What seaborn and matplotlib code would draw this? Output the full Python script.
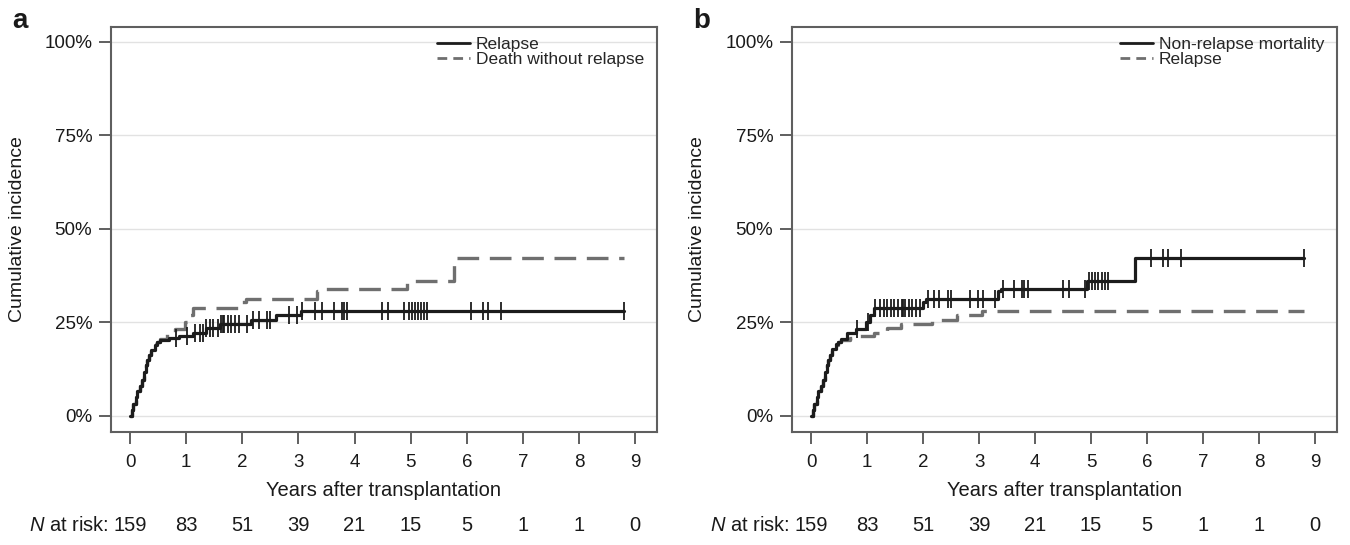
import numpy as np
import pandas as pd
import matplotlib
matplotlib.use("Agg")
import matplotlib.pyplot as plt
from matplotlib.lines import Line2D
import seaborn as sns

# ---------------- data ----------------
years_ticks = [0, 1, 2, 3, 4, 5, 6, 7, 8, 9]
n_at_risk = [159, 83, 51, 39, 21, 15, 5, 1, 1, 0]
y_ticks = [0, 25, 50, 75, 100]
y_ticklabels = ["0%", "25%", "50%", "75%", "100%"]

# cumulative incidence of relapse (%)
relapse_t = [0, 0.03, 0.06, 0.10, 0.13, 0.17, 0.22, 0.25, 0.28, 0.31, 0.34,
             0.38, 0.44, 0.48, 0.53, 0.70, 0.88, 1.12, 1.35, 1.60, 2.16,
             2.60, 3.05, 8.80]
relapse_ci = [0, 1.5, 3.2, 5.2, 6.6, 8.0, 9.6, 11.8, 13.6, 15.0, 16.3,
              17.6, 19.0, 19.7, 20.3, 20.9, 21.4, 22.3, 23.5, 24.7, 25.6,
              26.9, 28.0, 28.0]

# cumulative incidence of death without relapse / non-relapse mortality (%)
nrm_t = [0, 0.03, 0.06, 0.10, 0.13, 0.17, 0.22, 0.25, 0.28, 0.31, 0.34,
         0.38, 0.44, 0.48, 0.53, 0.65, 0.80, 0.98, 1.05, 1.12, 1.99, 2.06,
         3.33, 3.40, 4.93, 5.78, 8.80]
nrm_ci = [0, 1.5, 3.2, 5.2, 6.6, 8.0, 9.6, 11.8, 13.6, 15.0, 16.3,
          17.8, 19.3, 19.9, 20.5, 22.3, 23.2, 25.2, 27.0, 28.9, 30.5, 31.3,
          33.3, 34.0, 36.1, 42.2, 42.2]

# censoring times (years)
censor_t = [0.82, 1.02, 1.15, 1.24, 1.30, 1.36, 1.42, 1.48, 1.56, 1.62, 1.65,
            1.68, 1.74, 1.80, 1.87, 1.94, 2.08, 2.19, 2.29, 2.44, 2.50, 2.83,
            2.98, 3.07, 3.29, 3.42, 3.63, 3.77, 3.81, 3.87, 4.49, 4.60, 4.89,
            4.97, 5.02, 5.07, 5.13, 5.19, 5.24, 5.30, 6.07, 6.29, 6.38, 6.61,
            8.80]

panels = [
    dict(letter="a", solid=("Relapse", relapse_t, relapse_ci),
         dashed=("Death without relapse", nrm_t, nrm_ci)),
    dict(letter="b", solid=("Non-relapse mortality", nrm_t, nrm_ci),
         dashed=("Relapse", relapse_t, relapse_ci)),
]

# ---------------- style ----------------
sns.set_theme(style="white")
plt.rcParams["font.family"] = ["Liberation Sans", "DejaVu Sans"]
plt.rcParams["mathtext.fontset"] = "custom"
plt.rcParams["mathtext.it"] = "Liberation Sans:italic"
plt.rcParams["mathtext.rm"] = "Liberation Sans"

SOLID = "#1c1c1c"
DASH = "#6f6f6f"
SPINE = "#5f5f5f"
TEXT = "#1a1a1a"

W, H = 1350, 545
fig = plt.figure(figsize=(W / 100, H / 100), dpi=100)
fig.patch.set_facecolor("white")

ax_boxes = [(111, 27, 657, 432), (792, 27, 1337, 432)]


def step_value(t_arr, v_arr, t):
    t_arr = np.asarray(t_arr)
    idx = np.searchsorted(t_arr, t, side="right") - 1
    return np.asarray(v_arr)[np.clip(idx, 0, len(v_arr) - 1)]


for p, (l, tp, r, b) in zip(panels, ax_boxes):
    ax = fig.add_axes([l / W, 1 - b / H, (r - l) / W, (b - tp) / H])
    ax.set_facecolor("white")

    # grid lines
    for yv in y_ticks:
        ax.axhline(yv, color="#e2e2e2", lw=1.0, zorder=0)

    s_lab, s_t, s_v = p["solid"]
    d_lab, d_t, d_v = p["dashed"]
    df_s = pd.DataFrame({"t": s_t, "ci": s_v})
    df_d = pd.DataFrame({"t": d_t, "ci": d_v})

    sns.lineplot(data=df_d, x="t", y="ci", ax=ax, color=DASH, lw=2.4,
                 drawstyle="steps-post", linestyle=(0, (6.5, 3.2)),
                 estimator=None, zorder=2)
    sns.lineplot(data=df_s, x="t", y="ci", ax=ax, color=SOLID, lw=2.3,
                 drawstyle="steps-post", estimator=None, zorder=3)

    cens_y = step_value(s_t, s_v, np.array(censor_t))
    df_c = pd.DataFrame({"t": censor_t, "ci": cens_y})
    sns.scatterplot(data=df_c, x="t", y="ci", ax=ax, marker="|", s=150,
                    linewidth=1.3, color=SOLID, zorder=4)

    ax.set_xlim(-0.34, 9.39)
    ax.set_ylim(-4.28, 104.0)
    ax.set_xticks(years_ticks)
    ax.set_xticklabels([str(v) for v in years_ticks])
    ax.set_yticks(y_ticks)
    ax.set_yticklabels(y_ticklabels)
    ax.tick_params(axis="both", which="both", direction="out", length=8.5,
                   width=1.4, color=SPINE, labelsize=13.5, labelcolor=TEXT,
                   left=True, bottom=True)
    ax.tick_params(axis="x", pad=7)
    ax.tick_params(axis="y", pad=5)
    for sp in ax.spines.values():
        sp.set_visible(True)
        sp.set_color(SPINE)
        sp.set_linewidth(1.5)

    ax.set_xlabel("Years after transplantation", fontsize=14.5, color=TEXT)
    ax.xaxis.set_label_coords(0.5, -0.12)
    ax.set_ylabel("Cumulative incidence", fontsize=14, color=TEXT, va="center")
    ax.yaxis.set_label_coords(-(l - 18 if l < 500 else l - 697) / (r - l), 0.5)

    # N at risk row
    trans = ax.get_xaxis_transform()
    ax.text(-0.38, -0.23, r"$\it{N}$ at risk:", transform=trans, ha="right",
            va="center", fontsize=14.5, color=TEXT)
    for xv, n in zip(years_ticks, n_at_risk):
        ax.text(xv, -0.23, str(n), transform=trans, ha="center", va="center",
                fontsize=14.5, color=TEXT)

    handles = [Line2D([], [], color=SOLID, lw=2.0),
               Line2D([], [], color=DASH, lw=2.0, linestyle=(0, (3.5, 2.2)))]
    ax.legend(handles, [s_lab, d_lab], loc="upper right",
              bbox_to_anchor=(1 - 13 / (r - l), 1 - 10 / (b - tp)),
              frameon=False, fontsize=12.5, handlelength=1.9,
              handletextpad=0.35, labelspacing=0.0, borderpad=0,
              borderaxespad=0)

    # panel letter
    fig.text((l - 99) / W, 1 - 21 / H, p["letter"], fontsize=20,
             fontweight="bold", color=TEXT, ha="left", va="center")

fig.savefig("out.png", dpi=100)
